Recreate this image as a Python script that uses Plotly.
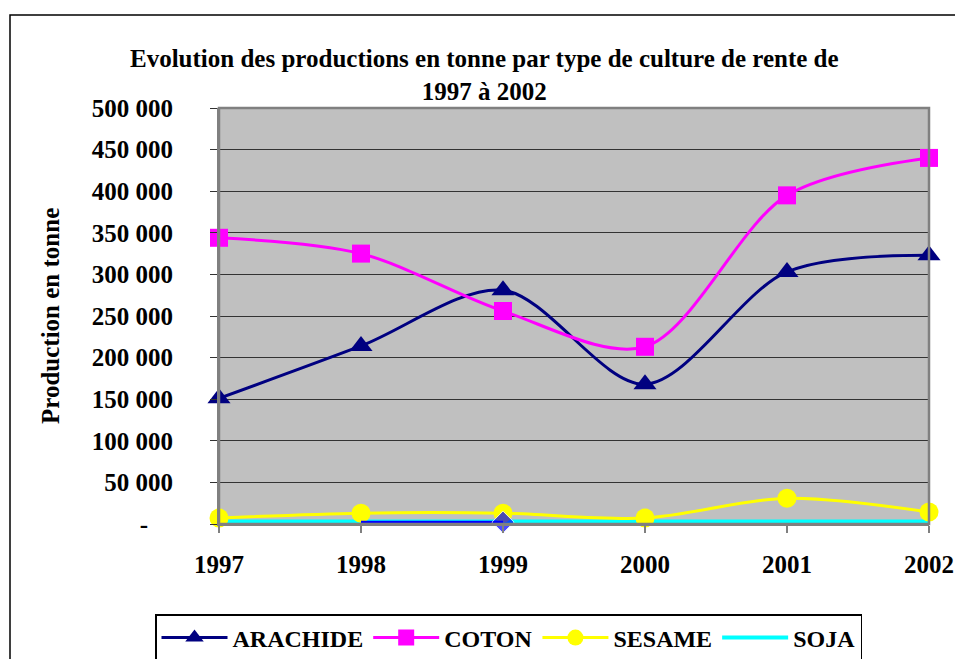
import plotly.graph_objects as go

years = [1997, 1998, 1999, 2000, 2001, 2002]
arachide = [151000, 214000, 281000, 168000, 303000, 323000]
coton = [344000, 325000, 256000, 213000, 395000, 440000]
sesame = [7200, 13000, 13000, 7200, 31000, 14400]
soja = [3000, 3000, 3000, 3000, 3000, 3000]
autre_years = [1998, 1999]
autre = [2000, 2200]

y_ticks = [0, 50000, 100000, 150000, 200000, 250000, 300000, 350000, 400000, 450000, 500000]
y_ticktext = ["-\u00a0\u00a0\u00a0\u00a0", "50 000", "100 000", "150 000", "200 000", "250 000", "300 000",
              "350 000", "400 000", "450 000", "500 000"]

FONT = "Liberation Serif"
F = dict(family=FONT, size=25, color="black", weight="bold")
FL = dict(family=FONT, size=24, color="black", weight="bold")
fig = go.Figure()

fig.add_trace(go.Scatter(x=years, y=arachide, name="ARACHIDE", mode="lines+markers",
                         line=dict(color="#000080", width=3, shape="spline", smoothing=0.9),
                         marker=dict(symbol="triangle-up", size=20, color="#000080"),
                         cliponaxis=False, legendrank=1))
fig.add_trace(go.Scatter(x=years, y=coton, name="COTON", mode="lines+markers",
                         line=dict(color="#FF00FF", width=3, shape="spline", smoothing=0.9),
                         marker=dict(symbol="square", size=18, color="#FF00FF"),
                         cliponaxis=False, legendrank=2))
fig.add_trace(go.Scatter(x=years, y=soja, name="SOJA", mode="lines",
                         line=dict(color="#00FFFF", width=4, shape="spline"),
                         cliponaxis=False, legendrank=4))
fig.add_trace(go.Scatter(x=years, y=sesame, name="SESAME", mode="lines+markers",
                         line=dict(color="#FFFF00", width=3, shape="spline", smoothing=0.9),
                         marker=dict(symbol="circle", size=19, color="#FFFF00"),
                         cliponaxis=False, legendrank=3))
fig.add_trace(go.Scatter(x=autre_years, y=autre, name="", mode="lines+markers",
                         line=dict(color="#0000FF", width=3),
                         marker=dict(symbol="diamond", size=[0, 17], color="#0000FF"),
                         showlegend=False, cliponaxis=False))

L, R, T, B = 219, 929, 108, 524
W, H = 955, 659
pw, ph = R - L, B - T

fig.update_layout(
    width=W, height=H,
    margin=dict(l=L, r=W - R, t=T, b=H - B, autoexpand=False),
    paper_bgcolor="white", plot_bgcolor="#C0C0C0",
    font=F,
    showlegend=True,
    legend=dict(orientation="h", xref="paper", yref="paper",
                x=(155 - L) / pw, xanchor="left", y=(B - 614) / ph, yanchor="top",
                bordercolor="black", borderwidth=1.5, bgcolor="white",
                font=FL, itemwidth=66, tracegroupgap=0, traceorder="normal",
                entrywidth=0),
    xaxis=dict(range=[1997, 2002], tickvals=years, ticktext=[str(y) for y in years],
               showgrid=False, zeroline=False, showline=True, linecolor="#808080", linewidth=2,
               ticks="outside", ticklen=7, tickcolor="#808080", tickwidth=1.5,
               ticklabelstandoff=10, tickfont=F, automargin=False),
    yaxis=dict(range=[0, 500000], tickvals=y_ticks, ticktext=y_ticktext,
               showgrid=True, gridcolor="#333333", gridwidth=1, zeroline=False,
               showline=True, linecolor="#808080", linewidth=2,
               ticks="outside", ticklen=7, tickcolor="#333333", tickwidth=1,
               ticklabelstandoff=32, tickfont=F, automargin=False),
    shapes=[
        dict(type="rect", xref="paper", yref="paper", x0=0, x1=1, y0=0, y1=1,
             line=dict(color="#808080", width=2.5), layer="above"),
        dict(type="rect", xref="paper", yref="paper",
             x0=(10 - L) / pw, x1=(965 - L) / pw, y0=(B - 670) / ph, y1=(B - 15) / ph,
             line=dict(color="black", width=1.5), layer="below"),
    ],
    annotations=[
        dict(text="Evolution des productions en tonne par type de culture de rente de<br>1997 à 2002",
             xref="paper", yref="paper", x=(484 - L) / pw, y=(B - 75) / ph,
             xanchor="center", yanchor="middle", showarrow=False, font=F),
        dict(text="Production en tonne", xref="paper", yref="paper",
             x=(50 - L) / pw, y=0.5, textangle=-90, xanchor="center", yanchor="middle",
             showarrow=False, font=F),
    ],
)

fig.write_html("out.html", config={"displayModeBar": False},
               post_script="document.body.style.margin='0';document.body.style.overflow='hidden';")
